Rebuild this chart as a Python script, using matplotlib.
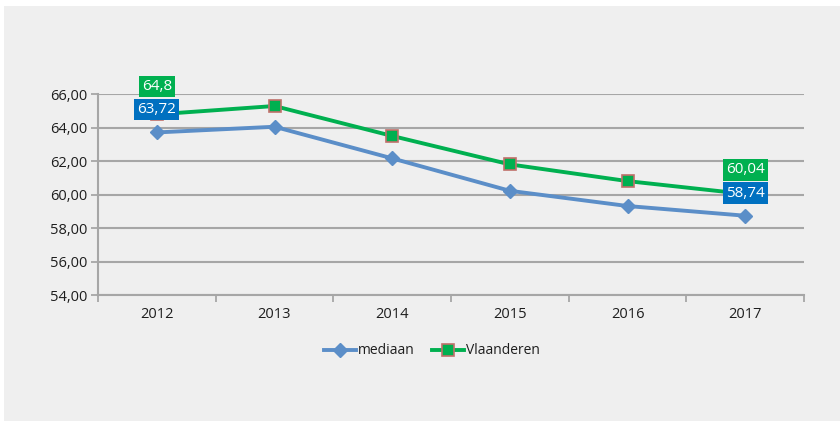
import matplotlib.pyplot as plt
from matplotlib.patches import Rectangle
from matplotlib.lines import Line2D

plt.rcParams['font.family'] = ['Open Sans', 'DejaVu Sans']

years = ["2012", "2013", "2014", "2015", "2016", "2017"]
mediaan = [63.72, 64.06, 62.17, 60.23, 59.32, 58.74]
vlaanderen = [64.8, 65.30, 63.51, 61.81, 60.81, 60.04]
yticks = [54, 56, 58, 60, 62, 64, 66]

blue = "#5b8ec8"
green = "#00b050"
edge = "#c0706a"
txt = "#1e1e1e"

fig = plt.figure(figsize=(8.4, 4.21), dpi=100, facecolor="white")
# grey panel behind the chart
fig.patches.append(Rectangle((4 / 840, 0), 836 / 840, 415 / 421, transform=fig.transFigure,
                             facecolor="#efefef", edgecolor="none", zorder=-10))

ax = fig.add_axes([98 / 840, 126 / 421, 706 / 840, 200.7 / 421])
ax.patch.set_alpha(0)

x = list(range(len(years)))
ax.plot(x, mediaan, color=blue, lw=2.8, marker="D", ms=7, mfc=blue, mec=blue, zorder=3)
ax.plot(x, vlaanderen, color=green, lw=2.8, marker="s", ms=8.5, mfc=green, mec=edge,
        mew=1.2, zorder=4)

ax.set_xlim(-0.5, len(years) - 0.5)
ax.set_ylim(54, 66)
ax.set_yticks(yticks)
ax.set_yticklabels([f"{v:.2f}".replace(".", ",") for v in yticks], fontsize=10.5, color=txt)
ax.set_xticks(x)
ax.set_xticklabels(years, fontsize=10.5, color=txt)
ax.set_xticks([i - 0.5 for i in range(len(years) + 1)], minor=True)
ax.tick_params(axis="x", which="major", length=0, pad=9)
ax.tick_params(axis="x", which="minor", length=5, color="#a0a0a0", width=1.2)
ax.tick_params(axis="y", length=5, color="#a0a0a0", width=1.2, pad=3)

ax.grid(axis="y", color="#a6a6a6", lw=1.5, zorder=1)
for s in ["top", "right"]:
    ax.spines[s].set_visible(False)
for s in ["left", "bottom"]:
    ax.spines[s].set_color("#a6a6a6")
    ax.spines[s].set_linewidth(1.5)

# data labels (offsets in points, relative to the Vlaanderen point)
def label(i, text, color, dy):
    ax.annotate(text, (x[i], vlaanderen[i]), xytext=(0, dy), textcoords="offset points",
                ha="center", va="center", color="white", fontsize=11, zorder=6,
                bbox=dict(boxstyle="square,pad=0.2", fc=color, ec="none"))

label(0, "64,8", green, 19.8)
label(0, "63,72", "#0070c0", 3.2)
label(5, "60,04", green, 17.3)
label(5, "58,74", "#0070c0", 0.7)

handles = [
    Line2D([], [], color=blue, lw=2.8, marker="D", ms=7, mfc=blue, mec=blue),
    Line2D([], [], color=green, lw=2.8, marker="s", ms=8.5, mfc=green, mec=edge, mew=1.2),
]
fig.legend(handles, ["mediaan", "Vlaanderen"], loc="center", bbox_to_anchor=(432 / 840, 1 - 351 / 421),
           ncol=2, frameon=False, fontsize=10, handlelength=2.3, handletextpad=0.1,
           columnspacing=1.3, labelcolor=txt)

fig.savefig("out.png", dpi=100, facecolor="white")
